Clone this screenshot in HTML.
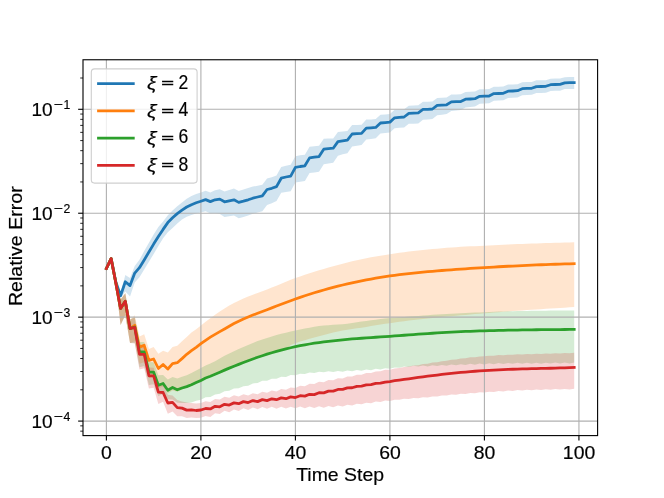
<!DOCTYPE html>
<html><head><meta charset="utf-8"><title>Relative Error vs Time Step</title>
<style>html,body{margin:0;padding:0;background:#fff;}svg{display:block;will-change:transform;}text{font-family:"Liberation Sans",sans-serif;fill:#000;stroke:#000;stroke-width:0.18px;}</style></head><body>
<svg width="664" height="498" viewBox="0 0 664 498">
<rect x="0" y="0" width="664" height="498" fill="#ffffff"/>
<defs><clipPath id="ax"><rect x="83.00" y="59.76" width="514.60" height="375.84"/></clipPath></defs>
<g clip-path="url(#ax)">
<polygon points="106.39,268.20 111.12,258.30 115.84,281.20 120.57,293.70 125.29,275.10 130.02,278.00 134.74,266.10 139.47,259.80 144.19,251.00 148.92,242.65 153.64,234.60 158.37,227.10 163.09,221.40 167.82,215.20 172.55,210.40 177.27,206.20 182.00,202.50 186.72,198.70 191.45,196.10 196.17,194.09 200.90,192.40 205.62,190.63 210.35,192.39 215.07,190.31 219.80,189.30 224.52,191.59 229.25,190.07 233.98,188.59 238.70,190.90 243.43,189.56 248.15,188.10 252.88,186.61 257.60,185.65 262.33,184.69 267.05,178.50 271.78,177.25 276.50,175.45 281.23,166.95 285.96,165.70 290.68,164.81 295.41,156.14 300.13,155.28 304.86,154.64 309.58,146.81 314.31,146.20 319.03,145.84 323.76,138.84 328.48,138.60 333.21,138.46 337.93,132.10 342.66,131.50 347.39,131.07 352.11,125.04 356.84,124.89 361.56,124.74 366.29,119.57 371.01,119.40 375.74,119.12 380.46,114.82 385.19,114.52 389.91,114.10 394.64,109.87 399.36,109.44 404.09,109.20 408.82,105.66 413.54,105.51 418.27,105.26 422.99,101.81 427.72,101.76 432.44,101.50 437.17,97.94 441.89,97.68 446.62,97.42 451.34,94.56 456.07,94.40 460.79,94.35 465.52,91.99 470.25,91.84 474.97,91.59 479.70,89.24 484.42,89.20 489.15,89.06 493.87,86.72 498.60,86.69 503.32,86.55 508.05,84.52 512.77,84.39 517.50,84.16 522.23,82.23 526.95,82.00 531.68,81.98 536.40,80.35 541.13,80.33 545.85,80.21 550.58,78.69 555.30,78.57 560.03,78.55 564.75,77.13 569.48,77.02 574.20,77.10 574.20,88.90 569.48,88.90 564.75,89.12 560.03,90.64 555.30,90.76 550.58,91.00 545.85,92.64 541.13,92.89 536.40,93.04 531.68,94.81 526.95,94.97 522.23,95.35 517.50,97.42 512.77,97.81 508.05,98.10 503.32,100.29 498.60,100.59 493.87,100.79 489.15,103.29 484.42,103.60 479.70,103.85 474.97,106.45 470.25,106.99 465.52,107.45 460.79,110.10 456.07,110.45 451.34,110.93 446.62,114.11 441.89,114.67 437.17,115.20 432.44,119.03 427.72,119.55 422.99,119.83 418.27,123.40 413.54,123.68 408.82,123.85 404.09,127.42 399.36,127.70 394.64,128.20 389.91,132.50 385.19,133.00 380.46,133.55 375.74,138.27 371.01,139.00 366.29,139.55 361.56,145.10 356.84,145.70 352.11,146.43 347.39,153.17 342.66,154.30 337.93,155.68 333.21,162.87 328.48,163.60 323.76,164.30 319.03,171.77 314.31,172.40 309.58,173.09 304.86,180.98 300.13,181.65 295.41,182.51 290.68,191.16 285.96,192.00 281.23,192.83 276.50,200.90 271.78,203.20 267.05,205.00 262.33,211.25 257.60,212.40 252.88,213.73 248.15,215.50 243.43,216.97 238.70,218.20 233.98,215.50 229.25,216.30 224.52,217.11 219.80,214.10 215.07,213.33 210.35,213.60 205.62,211.21 200.90,212.50 196.17,213.61 191.45,214.96 186.72,216.80 182.00,219.60 177.27,223.50 172.55,228.10 167.82,232.15 163.09,238.20 158.37,246.00 153.64,254.10 148.92,261.75 144.19,269.50 139.47,277.20 134.74,282.60 130.02,296.40 125.29,291.50 120.57,298.20 115.84,282.80 111.12,258.90 106.39,268.80" fill="#1f77b4" fill-opacity="0.2" stroke="none"/>
<polygon points="106.39,268.20 111.12,258.30 115.84,281.50 120.57,299.40 125.29,293.30 130.02,319.77 134.74,315.30 139.47,336.55 144.19,334.30 148.92,349.04 153.64,347.10 158.37,353.80 163.09,350.70 167.82,352.50 172.55,347.10 177.27,345.70 182.00,341.20 186.72,337.10 191.45,332.60 196.17,329.15 200.90,325.49 205.62,321.84 210.35,318.27 215.07,314.80 219.80,311.45 224.52,308.46 229.25,305.61 233.98,303.01 238.70,300.66 243.43,298.54 248.15,296.57 252.88,294.71 257.60,292.92 262.33,291.17 267.05,289.41 271.78,287.60 276.50,285.69 281.23,283.70 285.96,281.71 290.68,279.80 295.41,278.04 300.13,276.40 304.86,274.80 309.58,273.26 314.31,271.78 319.03,270.34 323.76,268.94 328.48,267.56 333.21,266.22 337.93,264.92 342.66,263.68 347.39,262.49 352.11,261.33 356.84,260.21 361.56,259.17 366.29,258.19 371.01,257.29 375.74,256.44 380.46,255.64 385.19,254.89 389.91,254.17 394.64,253.48 399.36,252.83 404.09,252.20 408.82,251.61 413.54,251.05 418.27,250.51 422.99,250.01 427.72,249.53 432.44,249.07 437.17,248.64 441.89,248.23 446.62,247.85 451.34,247.49 456.07,247.15 460.79,246.85 465.52,246.59 470.25,246.35 474.97,246.14 479.70,245.92 484.42,245.68 489.15,245.44 493.87,245.21 498.60,244.97 503.32,244.75 508.05,244.53 512.77,244.32 517.50,244.11 522.23,243.92 526.95,243.73 531.68,243.55 536.40,243.38 541.13,243.21 545.85,243.06 550.58,242.91 555.30,242.78 560.03,242.65 564.75,242.53 569.48,242.42 574.20,242.31 574.20,307.01 569.48,307.33 564.75,307.65 560.03,307.96 555.30,308.26 550.58,308.55 545.85,308.84 541.13,309.14 536.40,309.44 531.68,309.75 526.95,310.07 522.23,310.41 517.50,310.76 512.77,311.11 508.05,311.46 503.32,311.81 498.60,312.17 493.87,312.54 489.15,312.91 484.42,313.28 479.70,313.67 474.97,314.07 470.25,314.47 465.52,314.88 460.79,315.29 456.07,315.72 451.34,316.14 446.62,316.58 441.89,317.02 437.17,317.47 432.44,317.93 427.72,318.43 422.99,318.94 418.27,319.48 413.54,320.04 408.82,320.62 404.09,321.23 399.36,321.85 394.64,322.50 389.91,323.17 385.19,323.85 380.46,324.57 375.74,325.31 371.01,326.09 366.29,326.89 361.56,327.66 356.84,328.34 352.11,329.01 347.39,329.73 342.66,330.58 337.93,331.56 333.21,332.61 328.48,333.73 323.76,334.91 319.03,336.14 314.31,337.44 309.58,338.80 304.86,340.20 300.13,341.61 295.41,343.14 290.68,344.97 285.96,349.16 281.23,350.37 276.50,351.66 271.78,353.40 267.05,355.15 262.33,356.77 257.60,358.31 252.88,359.85 248.15,361.47 243.43,363.20 238.70,365.06 233.98,367.07 229.25,369.24 224.52,371.44 219.80,373.45 215.07,375.25 210.35,376.97 205.62,378.95 200.90,381.19 196.17,383.65 191.45,385.70 186.72,387.42 182.00,389.60 177.27,391.76 172.55,390.60 167.82,393.50 163.09,386.50 158.37,388.14 153.64,377.00 148.92,377.82 144.19,362.30 139.47,363.67 134.74,341.30 130.02,343.10 125.29,315.30 120.57,324.90 115.84,285.00 111.12,258.90 106.39,268.80" fill="#ff7f0e" fill-opacity="0.2" stroke="none"/>
<polygon points="106.39,268.20 111.12,258.30 115.84,281.50 120.57,299.40 125.29,293.30 130.02,319.60 134.74,317.00 139.47,342.00 144.19,342.00 148.92,362.00 153.64,362.20 158.37,375.30 163.09,374.90 167.82,379.40 172.55,377.10 177.27,378.50 182.00,376.70 186.72,375.16 191.45,373.10 196.17,370.59 200.90,368.10 205.62,365.56 210.35,363.60 215.07,361.15 219.80,358.42 224.52,355.83 229.25,353.47 233.98,351.21 238.70,349.03 243.43,346.92 248.15,344.91 252.88,342.96 257.60,341.10 262.33,339.41 267.05,337.88 271.78,336.43 276.50,335.08 281.23,333.84 285.96,332.69 290.68,331.61 295.41,330.58 300.13,329.57 304.86,328.58 309.58,327.64 314.31,326.78 319.03,326.05 323.76,325.50 328.48,325.13 333.21,324.86 337.93,324.58 342.66,324.21 347.39,323.67 352.11,323.01 356.84,322.28 361.56,321.55 366.29,320.90 371.01,320.28 375.74,319.66 380.46,319.05 385.19,318.52 389.91,318.08 394.64,317.71 399.36,317.34 404.09,316.97 408.82,316.60 413.54,316.24 418.27,315.88 422.99,315.53 427.72,315.19 432.44,314.86 437.17,314.54 441.89,314.24 446.62,313.95 451.34,313.69 456.07,313.44 460.79,313.20 465.52,312.98 470.25,312.77 474.97,312.57 479.70,312.38 484.42,312.20 489.15,312.01 493.87,311.81 498.60,311.62 503.32,311.44 508.05,311.30 512.77,311.18 517.50,311.07 522.23,310.97 526.95,310.88 531.68,310.81 536.40,310.76 541.13,310.70 545.85,310.66 550.58,310.61 555.30,310.57 560.03,310.53 564.75,310.50 569.48,310.46 574.20,310.43 574.20,362.55 569.48,363.52 564.75,362.58 560.03,363.55 555.30,362.61 550.58,363.59 545.85,362.65 541.13,363.63 536.40,362.70 531.68,363.69 526.95,362.77 522.23,363.77 517.50,362.86 512.77,363.87 508.05,362.97 503.32,364.00 498.60,363.12 493.87,364.17 489.15,363.31 484.42,364.38 479.70,363.54 474.97,364.63 470.25,363.82 465.52,364.94 460.79,364.15 456.07,365.29 451.34,364.53 446.62,365.69 441.89,364.94 437.17,366.12 432.44,365.33 427.72,366.39 422.99,365.50 418.27,366.55 413.54,365.75 408.82,366.99 404.09,366.43 399.36,367.87 394.64,367.38 389.91,368.76 385.19,368.16 380.46,369.47 375.74,368.85 371.01,370.14 366.29,369.52 361.56,370.78 356.84,370.07 352.11,371.25 347.39,370.50 342.66,371.69 337.93,370.93 333.21,372.03 328.48,371.21 323.76,372.35 319.03,371.67 314.31,373.01 309.58,372.50 304.86,373.99 300.13,373.63 295.41,375.26 290.68,375.06 285.96,376.88 281.23,376.85 276.50,378.80 271.78,378.85 267.05,380.75 262.33,380.75 257.60,382.93 252.88,383.39 248.15,385.79 243.43,386.14 238.70,388.30 233.98,388.56 229.25,390.83 224.52,391.34 219.80,393.83 215.07,394.41 210.35,396.88 205.62,397.32 200.90,399.78 196.17,400.80 191.45,402.60 186.72,403.10 182.00,403.00 177.27,402.80 172.55,399.50 167.82,399.20 163.09,393.50 158.37,396.30 153.64,384.20 148.92,385.00 144.19,366.00 139.47,367.25 134.74,343.00 130.02,343.10 125.29,315.30 120.57,324.90 115.84,285.00 111.12,258.90 106.39,268.80" fill="#2ca02c" fill-opacity="0.2" stroke="none"/>
<polygon points="106.39,268.20 111.12,258.30 115.84,281.50 120.57,299.40 125.29,293.30 130.02,319.60 134.74,317.40 139.47,344.68 144.19,345.30 148.92,367.43 153.64,367.80 158.37,384.10 163.09,384.40 167.82,394.80 172.55,395.40 177.27,399.90 182.00,401.40 186.72,402.60 191.45,403.10 196.17,403.50 200.90,402.95 205.62,401.35 210.35,402.01 215.07,398.90 219.80,399.49 224.52,396.70 229.25,397.77 233.98,395.33 238.70,396.57 243.43,394.25 248.15,395.53 252.88,393.15 257.60,394.30 262.33,391.82 267.05,392.86 271.78,390.45 276.50,391.42 281.23,389.03 285.96,389.84 290.68,387.44 295.41,388.10 300.13,385.69 304.86,386.16 309.58,383.74 314.31,384.10 319.03,381.80 323.76,382.15 328.48,379.98 333.21,380.26 337.93,378.18 342.66,378.38 347.39,376.40 352.11,376.52 356.84,374.66 361.56,374.70 366.29,372.99 371.01,372.97 375.74,371.40 380.46,371.29 385.19,369.87 389.91,369.66 394.64,368.43 399.36,368.07 404.09,367.04 408.82,366.62 413.54,365.58 418.27,365.13 422.99,364.08 427.72,363.63 432.44,362.60 437.17,362.20 441.89,361.20 446.62,360.81 451.34,359.83 456.07,359.47 460.79,358.53 465.52,358.23 470.25,357.37 474.97,357.16 479.70,356.41 484.42,356.32 489.15,355.69 493.87,355.68 498.60,355.11 503.32,355.16 508.05,354.64 512.77,354.75 517.50,354.27 522.23,354.42 526.95,353.98 531.68,354.16 536.40,353.74 541.13,353.93 545.85,353.53 550.58,353.72 555.30,353.32 560.03,353.50 564.75,353.08 569.48,353.25 574.20,352.81 574.20,388.66 569.48,389.38 564.75,388.89 560.03,389.59 555.30,389.09 550.58,389.79 545.85,389.29 541.13,389.99 536.40,389.49 531.68,390.21 526.95,389.74 522.23,390.51 517.50,390.10 512.77,390.92 508.05,390.56 503.32,391.41 498.60,391.09 493.87,391.97 489.15,391.67 484.42,392.57 479.70,392.29 474.97,393.22 470.25,392.97 465.52,393.94 460.79,393.73 456.07,394.74 451.34,394.57 446.62,395.61 441.89,395.47 437.17,396.55 432.44,396.40 427.72,397.41 422.99,397.19 418.27,398.16 413.54,397.95 408.82,398.97 404.09,398.81 399.36,399.85 394.64,399.65 389.91,400.91 385.19,400.57 380.46,402.04 375.74,401.59 371.01,403.21 366.29,402.64 361.56,404.35 356.84,403.67 352.11,405.48 347.39,404.68 342.66,406.53 337.93,405.51 333.21,407.25 328.48,405.94 323.76,407.66 319.03,406.25 314.31,408.02 309.58,406.42 304.86,408.16 300.13,406.46 295.41,408.35 290.68,406.64 285.96,408.57 281.23,406.71 276.50,408.68 271.78,406.74 267.05,408.83 262.33,406.91 257.60,409.19 252.88,407.38 248.15,409.88 243.43,408.27 238.70,410.91 233.98,409.42 229.25,412.20 224.52,410.85 219.80,414.03 215.07,413.35 210.35,416.96 205.62,416.10 200.90,417.70 196.17,418.00 191.45,417.50 186.72,418.00 182.00,416.30 177.27,416.20 172.55,411.60 167.82,413.80 163.09,401.80 158.37,404.10 153.64,387.80 148.92,388.55 144.19,368.30 139.47,369.55 134.74,343.40 130.02,343.10 125.29,315.30 120.57,324.90 115.84,285.00 111.12,258.90 106.39,268.80" fill="#d62728" fill-opacity="0.2" stroke="none"/>
</g>
<g stroke="#b0b0b0" stroke-width="1.11" fill="none">
<line x1="106.39" y1="59.76" x2="106.39" y2="435.60"/>
<line x1="200.90" y1="59.76" x2="200.90" y2="435.60"/>
<line x1="295.41" y1="59.76" x2="295.41" y2="435.60"/>
<line x1="389.91" y1="59.76" x2="389.91" y2="435.60"/>
<line x1="484.42" y1="59.76" x2="484.42" y2="435.60"/>
<line x1="578.93" y1="59.76" x2="578.93" y2="435.60"/>
<line x1="83.00" y1="109.30" x2="597.60" y2="109.30"/>
<line x1="83.00" y1="213.23" x2="597.60" y2="213.23"/>
<line x1="83.00" y1="317.16" x2="597.60" y2="317.16"/>
<line x1="83.00" y1="421.09" x2="597.60" y2="421.09"/>
</g>
<g clip-path="url(#ax)" fill="none" stroke-width="2.78" stroke-linejoin="round" stroke-linecap="square">
<polyline points="106.39,268.50 111.12,258.60 115.84,282.00 120.57,295.70 125.29,281.70 130.02,285.60 134.74,273.10 139.47,267.70 144.19,260.00 148.92,252.00 153.64,244.10 158.37,236.60 163.09,229.40 167.82,222.60 172.55,217.80 177.27,213.60 182.00,210.10 186.72,207.00 191.45,204.70 196.17,202.80 200.90,201.20 205.62,199.60 210.35,201.60 215.07,199.80 219.80,199.10 224.52,201.80 229.25,200.80 233.98,199.80 238.70,202.40 243.43,201.20 248.15,199.80 252.88,198.20 257.60,197.00 262.33,195.80 267.05,189.50 271.78,188.30 276.50,186.60 281.23,178.20 285.96,177.00 290.68,176.10 295.41,167.40 300.13,166.50 304.86,165.80 309.58,157.90 314.31,157.20 319.03,156.60 323.76,149.20 328.48,148.60 333.21,148.20 337.93,141.60 342.66,140.80 347.39,140.20 352.11,134.00 356.84,133.70 361.56,133.40 366.29,128.10 371.01,127.80 375.74,127.40 380.46,123.00 385.19,122.60 389.91,122.10 394.64,117.80 399.36,117.30 404.09,117.00 408.82,113.40 413.54,113.20 418.27,112.90 422.99,109.40 427.72,109.30 432.44,109.00 437.17,105.40 441.89,105.10 446.62,104.80 451.34,101.90 456.07,101.70 460.79,101.60 465.52,99.20 470.25,99.00 474.97,98.70 479.70,96.30 484.42,96.20 489.15,96.00 493.87,93.60 498.60,93.50 503.32,93.30 508.05,91.20 512.77,91.00 517.50,90.70 522.23,88.70 526.95,88.40 531.68,88.30 536.40,86.60 541.13,86.50 545.85,86.30 550.58,84.70 555.30,84.50 560.03,84.40 564.75,82.90 569.48,82.70 574.20,82.70" stroke="#1f77b4"/>
<polyline points="106.39,268.50 111.12,258.60 115.84,283.00 120.57,308.40 125.29,301.30 130.02,328.60 134.74,325.30 139.47,347.10 144.19,345.30 148.92,360.40 153.64,359.00 158.37,368.50 163.09,364.50 167.82,369.00 172.55,363.60 177.27,362.70 182.00,358.60 186.72,354.30 191.45,350.70 196.17,347.30 200.90,343.69 205.62,340.30 210.35,337.17 215.07,334.38 219.80,331.65 224.52,328.94 229.25,326.21 233.98,323.58 238.70,321.18 243.43,318.99 248.15,316.97 252.88,315.08 257.60,313.27 262.33,311.49 267.05,309.71 271.78,307.90 276.50,306.07 281.23,304.25 285.96,302.46 290.68,300.73 295.41,299.04 300.13,297.40 304.86,295.80 309.58,294.26 314.31,292.78 319.03,291.34 323.76,289.96 328.48,288.64 333.21,287.37 337.93,286.15 342.66,284.98 347.39,283.87 352.11,282.80 356.84,281.78 361.56,280.82 366.29,279.89 371.01,279.02 375.74,278.19 380.46,277.41 385.19,276.66 389.91,275.97 394.64,275.31 399.36,274.69 404.09,274.11 408.82,273.56 413.54,273.05 418.27,272.56 422.99,272.10 427.72,271.67 432.44,271.26 437.17,270.87 441.89,270.49 446.62,270.13 451.34,269.78 456.07,269.45 460.79,269.12 465.52,268.79 470.25,268.48 474.97,268.17 479.70,267.87 484.42,267.58 489.15,267.30 493.87,267.03 498.60,266.76 503.32,266.51 508.05,266.26 512.77,266.02 517.50,265.79 522.23,265.57 526.95,265.35 531.68,265.15 536.40,264.95 541.13,264.76 545.85,264.59 550.58,264.42 555.30,264.26 560.03,264.11 564.75,263.97 569.48,263.84 574.20,263.71" stroke="#ff7f0e"/>
<polyline points="106.39,268.50 111.12,258.60 115.84,283.00 120.57,308.40 125.29,301.30 130.02,328.60 134.74,327.00 139.47,352.00 144.19,352.00 148.92,372.00 153.64,372.20 158.37,385.30 163.09,383.50 167.82,390.20 172.55,387.50 177.27,389.80 182.00,388.00 186.72,386.60 191.45,384.80 196.17,382.60 200.90,380.40 205.62,378.00 210.35,376.20 215.07,374.21 219.80,372.15 224.52,370.13 229.25,368.15 233.98,366.23 238.70,364.34 243.43,362.50 248.15,360.71 252.88,358.98 257.60,357.31 262.33,355.71 267.05,354.18 271.78,352.73 276.50,351.36 281.23,350.07 285.96,348.86 290.68,347.73 295.41,346.68 300.13,345.71 304.86,344.82 309.58,344.00 314.31,343.24 319.03,342.55 323.76,341.91 328.48,341.32 333.21,340.77 337.93,340.27 342.66,339.81 347.39,339.38 352.11,338.97 356.84,338.60 361.56,338.24 366.29,337.90 371.01,337.57 375.74,337.25 380.46,336.93 385.19,336.61 389.91,336.28 394.64,335.94 399.36,335.60 404.09,335.26 408.82,334.91 413.54,334.56 418.27,334.22 422.99,333.88 427.72,333.55 432.44,333.24 437.17,332.94 441.89,332.65 446.62,332.39 451.34,332.14 456.07,331.90 460.79,331.68 465.52,331.48 470.25,331.29 474.97,331.11 479.70,330.95 484.42,330.80 489.15,330.66 493.87,330.53 498.60,330.41 503.32,330.30 508.05,330.20 512.77,330.11 517.50,330.02 522.23,329.95 526.95,329.88 531.68,329.81 536.40,329.76 541.13,329.70 545.85,329.66 550.58,329.61 555.30,329.57 560.03,329.53 564.75,329.50 569.48,329.46 574.20,329.43" stroke="#2ca02c"/>
<polyline points="106.39,268.50 111.12,258.60 115.84,283.00 120.57,308.40 125.29,301.30 130.02,328.60 134.74,327.40 139.47,354.30 144.19,354.30 148.92,375.80 153.64,375.80 158.37,392.10 163.09,392.50 167.82,403.00 172.55,402.30 177.27,407.60 182.00,408.10 186.72,410.10 191.45,409.80 196.17,410.50 200.90,410.00 205.62,408.50 210.35,408.93 215.07,406.30 219.80,406.76 224.52,404.35 229.25,405.09 233.98,402.88 238.70,403.73 243.43,401.63 248.15,402.58 252.88,400.57 257.60,401.59 262.33,399.65 267.05,400.66 271.78,398.80 276.50,399.73 281.23,397.92 285.96,398.72 290.68,396.92 295.41,397.55 300.13,395.71 304.86,396.16 309.58,394.30 314.31,394.59 319.03,392.75 323.76,392.90 328.48,391.11 333.21,391.16 337.93,389.46 342.66,389.43 347.39,387.85 352.11,387.76 356.84,386.31 361.56,386.16 366.29,384.84 371.01,384.61 375.74,383.42 380.46,383.10 385.19,382.05 389.91,381.61 394.64,380.73 399.36,380.11 404.09,379.43 408.82,378.77 413.54,378.11 418.27,377.46 422.99,376.83 427.72,376.22 432.44,375.62 437.17,375.05 441.89,374.49 446.62,373.95 451.34,373.43 456.07,372.94 460.79,372.48 465.52,372.04 470.25,371.63 474.97,371.24 479.70,370.89 484.42,370.57 489.15,370.28 493.87,370.03 498.60,369.80 503.32,369.59 508.05,369.41 512.77,369.24 517.50,369.09 522.23,368.95 526.95,368.83 531.68,368.71 536.40,368.59 541.13,368.48 545.85,368.36 550.58,368.24 555.30,368.11 560.03,367.97 564.75,367.82 569.48,367.65 574.20,367.46" stroke="#d62728"/>
</g>
<g stroke="#000" stroke-width="1.11" fill="none">
<line x1="106.39" y1="435.60" x2="106.39" y2="440.46"/>
<line x1="200.90" y1="435.60" x2="200.90" y2="440.46"/>
<line x1="295.41" y1="435.60" x2="295.41" y2="440.46"/>
<line x1="389.91" y1="435.60" x2="389.91" y2="440.46"/>
<line x1="484.42" y1="435.60" x2="484.42" y2="440.46"/>
<line x1="578.93" y1="435.60" x2="578.93" y2="440.46"/>
<line x1="78.14" y1="109.30" x2="83.00" y2="109.30"/>
<line x1="78.14" y1="213.23" x2="83.00" y2="213.23"/>
<line x1="78.14" y1="317.16" x2="83.00" y2="317.16"/>
<line x1="78.14" y1="421.09" x2="83.00" y2="421.09"/>
</g>
<g stroke="#000" stroke-width="0.83" fill="none">
<line x1="80.22" y1="431.16" x2="83.00" y2="431.16"/>
<line x1="80.22" y1="425.85" x2="83.00" y2="425.85"/>
<line x1="80.22" y1="389.80" x2="83.00" y2="389.80"/>
<line x1="80.22" y1="371.50" x2="83.00" y2="371.50"/>
<line x1="80.22" y1="358.52" x2="83.00" y2="358.52"/>
<line x1="80.22" y1="348.45" x2="83.00" y2="348.45"/>
<line x1="80.22" y1="340.22" x2="83.00" y2="340.22"/>
<line x1="80.22" y1="333.26" x2="83.00" y2="333.26"/>
<line x1="80.22" y1="327.23" x2="83.00" y2="327.23"/>
<line x1="80.22" y1="321.92" x2="83.00" y2="321.92"/>
<line x1="80.22" y1="285.87" x2="83.00" y2="285.87"/>
<line x1="80.22" y1="267.57" x2="83.00" y2="267.57"/>
<line x1="80.22" y1="254.59" x2="83.00" y2="254.59"/>
<line x1="80.22" y1="244.52" x2="83.00" y2="244.52"/>
<line x1="80.22" y1="236.29" x2="83.00" y2="236.29"/>
<line x1="80.22" y1="229.33" x2="83.00" y2="229.33"/>
<line x1="80.22" y1="223.30" x2="83.00" y2="223.30"/>
<line x1="80.22" y1="217.99" x2="83.00" y2="217.99"/>
<line x1="80.22" y1="181.94" x2="83.00" y2="181.94"/>
<line x1="80.22" y1="163.64" x2="83.00" y2="163.64"/>
<line x1="80.22" y1="150.66" x2="83.00" y2="150.66"/>
<line x1="80.22" y1="140.59" x2="83.00" y2="140.59"/>
<line x1="80.22" y1="132.36" x2="83.00" y2="132.36"/>
<line x1="80.22" y1="125.40" x2="83.00" y2="125.40"/>
<line x1="80.22" y1="119.37" x2="83.00" y2="119.37"/>
<line x1="80.22" y1="114.06" x2="83.00" y2="114.06"/>
<line x1="80.22" y1="78.01" x2="83.00" y2="78.01"/>
</g>
<rect x="83.00" y="59.76" width="514.60" height="375.84" fill="none" stroke="#000" stroke-width="1.11"/>
<text transform="translate(106.49,459.25) scale(1.055,1)" font-size="18.4" text-anchor="middle">0</text>
<text transform="translate(201.00,459.25) scale(1.055,1)" font-size="18.4" text-anchor="middle">20</text>
<text transform="translate(295.51,459.25) scale(1.055,1)" font-size="18.4" text-anchor="middle">40</text>
<text transform="translate(390.01,459.25) scale(1.055,1)" font-size="18.4" text-anchor="middle">60</text>
<text transform="translate(484.52,459.25) scale(1.055,1)" font-size="18.4" text-anchor="middle">80</text>
<text transform="translate(579.03,459.25) scale(1.055,1)" font-size="18.4" text-anchor="middle">100</text>
<text transform="translate(52.6,116.30) scale(1.035,1)" font-size="18.4" text-anchor="end">10</text>
<text transform="translate(53.7,109.20) scale(1.220,1)" font-size="12.9" text-anchor="start">−</text>
<text transform="translate(70.3,109.20) scale(0.950,1)" font-size="12.9" text-anchor="end">1</text>
<text transform="translate(52.6,220.23) scale(1.035,1)" font-size="18.4" text-anchor="end">10</text>
<text transform="translate(53.7,213.13) scale(1.220,1)" font-size="12.9" text-anchor="start">−</text>
<text transform="translate(70.3,213.13) scale(0.950,1)" font-size="12.9" text-anchor="end">2</text>
<text transform="translate(52.6,324.16) scale(1.035,1)" font-size="18.4" text-anchor="end">10</text>
<text transform="translate(53.7,317.06) scale(1.220,1)" font-size="12.9" text-anchor="start">−</text>
<text transform="translate(70.3,317.06) scale(0.950,1)" font-size="12.9" text-anchor="end">3</text>
<text transform="translate(52.6,428.09) scale(1.035,1)" font-size="18.4" text-anchor="end">10</text>
<text transform="translate(53.7,420.99) scale(1.220,1)" font-size="12.9" text-anchor="start">−</text>
<text transform="translate(70.3,420.99) scale(0.950,1)" font-size="12.9" text-anchor="end">4</text>
<text transform="translate(340.1,481.3) scale(1.057,1)" font-size="18.4" text-anchor="middle">Time Step</text>
<text transform="translate(22.0,246.2) rotate(-90) scale(1.065,1)" font-size="18.4" text-anchor="middle">Relative Error</text>
<rect x="91.30" y="68.90" width="105.80" height="114.20" rx="3.3" ry="3.3" fill="#ffffff" fill-opacity="0.8" stroke="#cccccc" stroke-opacity="0.95" stroke-width="1.11"/>
<line x1="98.5" y1="83.70" x2="133.3" y2="83.70" stroke="#1f77b4" stroke-width="2.78" stroke-linecap="square"/>
<text transform="translate(146.9,89.40) scale(1.12,1)" font-size="19.0" font-style="italic">ξ</text>
<text transform="translate(161.2,87.40) scale(1.29,0.8)" font-size="17.0" style="stroke-width:0.45px">=</text>
<text transform="translate(178.4,88.90) scale(0.91,1)" font-size="19.3">2</text>
<line x1="98.5" y1="110.90" x2="133.3" y2="110.90" stroke="#ff7f0e" stroke-width="2.78" stroke-linecap="square"/>
<text transform="translate(146.9,116.60) scale(1.12,1)" font-size="19.0" font-style="italic">ξ</text>
<text transform="translate(161.2,114.60) scale(1.29,0.8)" font-size="17.0" style="stroke-width:0.45px">=</text>
<text transform="translate(178.4,116.10) scale(0.91,1)" font-size="19.3">4</text>
<line x1="98.5" y1="138.10" x2="133.3" y2="138.10" stroke="#2ca02c" stroke-width="2.78" stroke-linecap="square"/>
<text transform="translate(146.9,143.80) scale(1.12,1)" font-size="19.0" font-style="italic">ξ</text>
<text transform="translate(161.2,141.80) scale(1.29,0.8)" font-size="17.0" style="stroke-width:0.45px">=</text>
<text transform="translate(178.4,143.30) scale(0.91,1)" font-size="19.3">6</text>
<line x1="98.5" y1="165.40" x2="133.3" y2="165.40" stroke="#d62728" stroke-width="2.78" stroke-linecap="square"/>
<text transform="translate(146.9,171.10) scale(1.12,1)" font-size="19.0" font-style="italic">ξ</text>
<text transform="translate(161.2,169.10) scale(1.29,0.8)" font-size="17.0" style="stroke-width:0.45px">=</text>
<text transform="translate(178.4,170.60) scale(0.91,1)" font-size="19.3">8</text>
</svg>
</body></html>
